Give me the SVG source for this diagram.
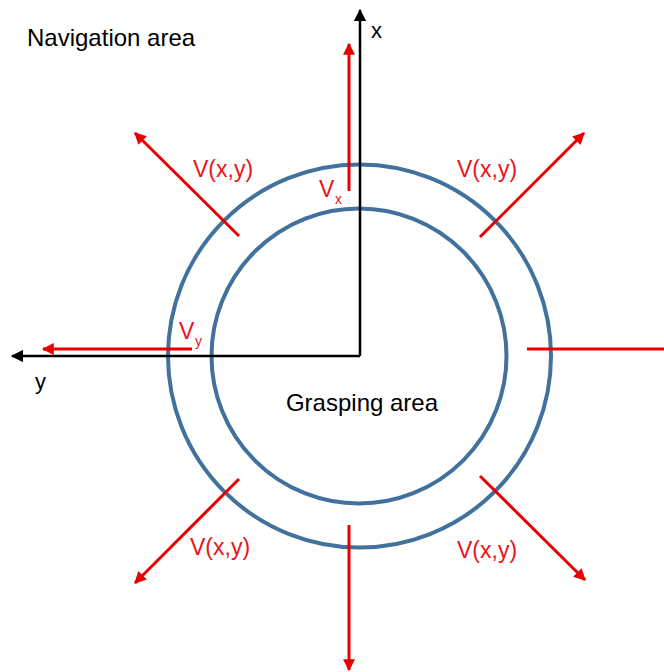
<svg xmlns="http://www.w3.org/2000/svg" width="664" height="672" viewBox="0 0 664 672">
<style>
text{font-family:"Liberation Sans",Arial,sans-serif}
.lbl{fill:#000;font-size:24px}
.ax{fill:#000;font-size:22px}
.v{fill:#e8141b;font-size:23px}
.sub{fill:#e8141b;font-size:14px}
.ring{fill:none;stroke:#41719c;stroke-width:4}
.axis{stroke:#000;stroke-width:2.5;fill:none}
.vec{stroke:#e60000;stroke-width:3;fill:none}
</style>
<defs>
<marker id="ah" viewBox="0 0 10 10" refX="9" refY="5" markerWidth="4" markerHeight="4" markerUnits="strokeWidth" orient="auto"><path d="M0,0 L10,5 L0,10 z" fill="#e60000"/></marker>
<marker id="ak" viewBox="0 0 10 10" refX="9" refY="5" markerWidth="5" markerHeight="5" markerUnits="strokeWidth" orient="auto"><path d="M0,0 L10,5 L0,10 z" fill="#000"/></marker>
</defs>
<rect width="664" height="672" fill="#fff"/>
<g id="navigation-area"><text class="lbl" x="27" y="46">Navigation area</text></g>
<g id="outer-ring"><circle class="ring" cx="359.5" cy="356" r="191.5"/></g>
<g id="grasping-area"><circle class="ring" cx="359" cy="356" r="147.5"/><text class="lbl" x="362" y="411" text-anchor="middle">Grasping area</text></g>
<g id="connectors">
<path class="axis" d="M360,356 V10" marker-end="url(#ak)"/>
<path class="axis" d="M360,356 H12" marker-end="url(#ak)"/>
<path class="vec" d="M349,191 V44" marker-end="url(#ah)"/>
<path class="vec" d="M192,349 H43" marker-end="url(#ah)"/>
<path class="vec" d="M239,236 L135,133" marker-end="url(#ah)"/>
<path class="vec" d="M480,237 L584,133" marker-end="url(#ah)"/>
<path class="vec" d="M239,479 L135,583" marker-end="url(#ah)"/>
<path class="vec" d="M480,476 L585,580" marker-end="url(#ah)"/>
<path class="vec" d="M349,525 V670" marker-end="url(#ah)"/>
<path class="vec" d="M527,349 H664"/>
</g>
<g id="labels">
<text class="ax" x="371" y="38">x</text>
<text class="ax" x="35" y="389">y</text>
<text class="v" x="319" y="197">V</text><text class="sub" x="335" y="204">x</text>
<text class="v" x="179" y="339">V</text><text class="sub" x="195" y="346">y</text>
<text class="v" x="193" y="177">V(x,y)</text>
<text class="v" x="457" y="177">V(x,y)</text>
<text class="v" x="190" y="555">V(x,y)</text>
<text class="v" x="457" y="558">V(x,y)</text>
</g>
</svg>
